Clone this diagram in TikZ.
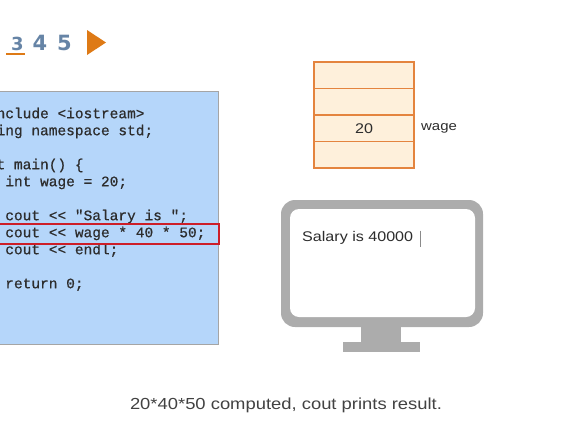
\documentclass[tikz,border=0pt]{standalone}
\usepackage{fontspec}
\setmainfont{Liberation Sans}
\newfontfamily\codefont[FakeBold=0.6]{Liberation Mono}
\newfontfamily\widefont[FakeStretch=1.15]{Liberation Sans}
\newfontfamily\navfont{DejaVu Sans}
\usepackage{xcolor}
\usetikzlibrary{positioning, arrows.meta}

\definecolor{navblue}{RGB}{102,132,166}
\definecolor{navorange}{RGB}{222,122,22}
\definecolor{codeblue}{RGB}{181,214,250}
\definecolor{codegray}{RGB}{165,165,165}
\definecolor{hlred}{RGB}{205,30,40}
\definecolor{memorange}{RGB}{228,132,62}
\definecolor{mempeach}{RGB}{254,240,219}
\definecolor{screengray}{RGB}{172,172,172}
\definecolor{inkgray}{RGB}{45,45,45}

\begin{document}
\begin{tikzpicture}[x=1pt, y=-1pt,
    navnum/.style={font=\navfont\bfseries\fontsize{21}{21}\selectfont, text=navblue,
                   inner sep=0pt, anchor=base},
    codebox/.style={draw=codegray, fill=codeblue, line width=1pt,
                    inner sep=0pt, outer sep=0pt},
    codetext/.style={font=\codefont\fontsize{14.5}{17}\selectfont, text=inkgray,
                     align=left, inner sep=0pt, anchor=north west},
    hlbox/.style={draw=hlred, line width=2pt, inner sep=0pt, outer sep=0pt},
    cell/.style={draw=memorange, fill=mempeach, line width=1.5pt, outer sep=0pt,
                 minimum width=100pt, minimum height=26.5pt, inner sep=0pt,
                 font=\widefont\fontsize{14}{14}\selectfont, text=inkgray},
    plain/.style={inner sep=0pt, text=inkgray}
  ]
    \clip (0,0) rectangle (568,426);
    % Step navigation
    \node[navnum, font=\navfont\bfseries\fontsize{18}{18}\selectfont] (s3) at (17.5,50) {3};
    \node[navnum] (s4) at (40,50) {4};
    \node[navnum] (s5) at (64.5,50) {5};
    \draw[navorange, line width=2pt] (6,54) -- (25,54);
    \fill[navorange] (87,30) -- (106,42.5) -- (87,55) -- cycle;
    % Code panel
    \node[codebox, anchor=north east, minimum width=240pt,
          minimum height=253.5pt] (code) at (218.5,91) {};
    \node[codetext] (src) at (-21,107.5)
      {\#include <iostream>\\
       using namespace std;\\
       \mbox{}\\
       int main() \{\\
       \ \ \ int wage = 20;\\
       \mbox{}\\
       \ \ \ cout << "Salary is ";\\
       \ \ \ cout << wage * 40 * 50;\\
       \ \ \ cout << endl;\\
       \mbox{}\\
       \ \ \ return 0;};
    \node[hlbox, anchor=north east, minimum width=240pt,
          minimum height=20pt] (hl) at (219,224) {};
    % Memory
    \node[cell] (m1) at (364,75.25) {};
    \node[cell, below=0pt of m1] (m2) {};
    \node[cell, below=0pt of m2] (m3) {20};
    \node[cell, below=0pt of m3] (m4) {};
    \node[plain, right=7pt of m3, font=\widefont\fontsize{13}{13}\selectfont] (wage) {wage};
    % Monitor
    \fill[screengray, rounded corners=14pt] (281,200) rectangle (483,327);
    \fill[white, rounded corners=9pt] (290,209) rectangle (475,317);
    \fill[screengray] (361,326) rectangle (401,343);
    \fill[screengray] (343,342) rectangle (420,352);
    \node[plain, anchor=base west, font=\widefont\fontsize{14}{14}\selectfont] (out)
      at (302,241) {Salary is 40000};
    \draw[screengray!80!black, line width=1pt] ([xshift=7pt]out.north east)
      -- ([xshift=7pt, yshift=-3pt]out.south east);
    % Caption
    \node[plain, text=inkgray!90, font=\widefont\fontsize{16}{16}\selectfont] (caption)
      at (286,405) {20*40*50 computed, cout prints result.};
\end{tikzpicture}
\end{document}
